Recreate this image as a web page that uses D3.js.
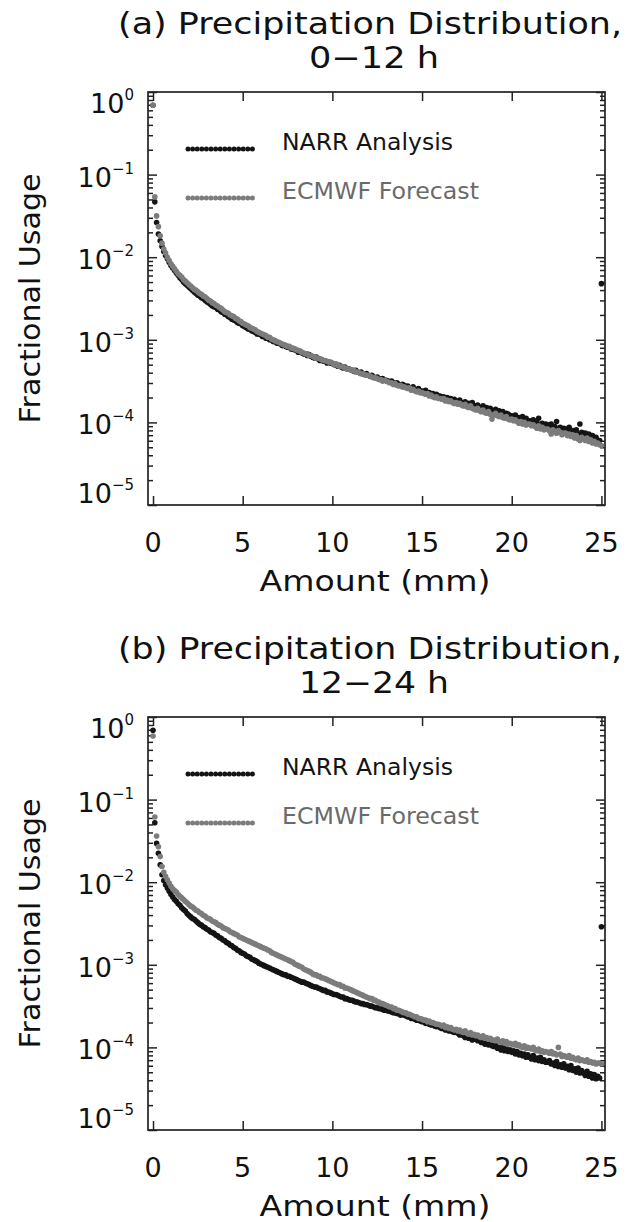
<!DOCTYPE html>
<html>
<head>
<meta charset="utf-8">
<script src="https://cdn.jsdelivr.net/npm/d3@7"></script>
<style>
  body { margin: 0; background: #fff; }
  svg { display: block; font-family: "DejaVu Sans", sans-serif; }
</style>
</head>
<body>
<svg id="chart" width="635" height="1222"></svg>
<script>
// precipitation bins: 0.0, 0.1, ... 24.9 mm, last bin (>= 25 mm) sits at 25
var amounts = d3.range(251).map(function(i) { return i / 10; });

var xTicks = [0, 5, 10, 15, 20, 25];
var yExponents = [0, -1, -2, -3, -4, -5];

// log10 of fractional usage, one row per mm
var narrA = [
  -0.16,-1.33,-1.58,-1.72,-1.80,-1.87,-1.93,-1.98,-2.02,-2.06,
  -2.10,-2.13,-2.16,-2.19,-2.22,-2.25,-2.27,-2.30,-2.32,-2.34,
  -2.36,-2.38,-2.40,-2.42,-2.44,-2.46,-2.47,-2.49,-2.50,-2.52,
  -2.54,-2.55,-2.57,-2.59,-2.60,-2.61,-2.63,-2.64,-2.66,-2.67,
  -2.69,-2.70,-2.72,-2.73,-2.75,-2.76,-2.77,-2.79,-2.80,-2.81,
  -2.83,-2.84,-2.85,-2.87,-2.87,-2.89,-2.90,-2.91,-2.93,-2.93,
  -2.94,-2.96,-2.96,-2.98,-2.98,-3.00,-3.00,-3.02,-3.02,-3.04,
  -3.04,-3.05,-3.07,-3.06,-3.08,-3.09,-3.09,-3.11,-3.11,-3.12,
  -3.13,-3.15,-3.14,-3.16,-3.17,-3.17,-3.19,-3.18,-3.20,-3.21,
  -3.22,-3.21,-3.23,-3.25,-3.24,-3.26,-3.26,-3.28,-3.27,-3.28,
  -3.29,-3.30,-3.30,-3.32,-3.31,-3.33,-3.34,-3.33,-3.35,-3.35,
  -3.36,-3.37,-3.38,-3.37,-3.39,-3.40,-3.39,-3.41,-3.42,-3.41,
  -3.43,-3.44,-3.43,-3.45,-3.46,-3.45,-3.47,-3.48,-3.47,-3.49,
  -3.49,-3.50,-3.51,-3.50,-3.52,-3.53,-3.52,-3.54,-3.55,-3.54,
  -3.55,-3.57,-3.56,-3.58,-3.59,-3.57,-3.60,-3.61,-3.59,-3.62,
  -3.62,-3.63,-3.61,-3.65,-3.64,-3.66,-3.65,-3.67,-3.66,-3.68,
  -3.68,-3.70,-3.69,-3.71,-3.70,-3.72,-3.71,-3.74,-3.72,-3.74,
  -3.75,-3.73,-3.76,-3.77,-3.75,-3.78,-3.77,-3.80,-3.76,-3.80,
  -3.81,-3.79,-3.82,-3.83,-3.80,-3.84,-3.82,-3.85,-3.83,-3.86,
  -3.87,-3.84,-3.88,-3.86,-3.90,-3.87,-3.91,-3.89,-3.90,-3.93,
  -3.92,-3.95,-3.91,-3.96,-3.94,-3.97,-3.93,-3.98,-3.95,-3.99,
  -3.98,-4.01,-3.97,-4.02,-4.00,-3.95,-4.03,-4.01,-4.04,-4.02,
  -4.03,-4.06,-4.02,-4.07,-4.05,-3.99,-4.08,-4.06,-4.09,-4.07,
  -4.08,-4.11,-4.06,-4.12,-4.10,-4.13,-4.09,-4.14,-4.02,-4.12,
  -4.15,-4.13,-4.17,-4.14,-4.19,-4.16,-4.21,-4.18,-4.23,-4.22,
  -2.32
];

var ecmwfA = [
  -0.16,-1.27,-1.50,-1.63,-1.74,-1.83,-1.90,-1.95,-2.00,-2.04,
  -2.08,-2.11,-2.14,-2.17,-2.20,-2.22,-2.24,-2.27,-2.29,-2.31,
  -2.33,-2.35,-2.37,-2.39,-2.40,-2.42,-2.44,-2.45,-2.47,-2.48,
  -2.50,-2.52,-2.53,-2.55,-2.56,-2.58,-2.59,-2.61,-2.62,-2.64,
  -2.66,-2.67,-2.68,-2.70,-2.71,-2.72,-2.74,-2.75,-2.77,-2.78,
  -2.80,-2.81,-2.82,-2.83,-2.85,-2.86,-2.87,-2.88,-2.90,-2.91,
  -2.92,-2.93,-2.94,-2.95,-2.97,-2.97,-2.99,-3.00,-3.01,-3.02,
  -3.03,-3.04,-3.05,-3.06,-3.07,-3.08,-3.08,-3.10,-3.10,-3.11,
  -3.12,-3.13,-3.14,-3.15,-3.16,-3.17,-3.17,-3.19,-3.19,-3.20,
  -3.21,-3.22,-3.22,-3.23,-3.24,-3.25,-3.25,-3.26,-3.27,-3.27,
  -3.28,-3.30,-3.29,-3.31,-3.32,-3.32,-3.33,-3.34,-3.35,-3.35,
  -3.36,-3.37,-3.37,-3.39,-3.39,-3.40,-3.41,-3.41,-3.42,-3.43,
  -3.43,-3.44,-3.45,-3.46,-3.46,-3.47,-3.48,-3.48,-3.50,-3.49,
  -3.50,-3.51,-3.52,-3.52,-3.54,-3.53,-3.55,-3.56,-3.55,-3.57,
  -3.57,-3.58,-3.59,-3.58,-3.61,-3.60,-3.62,-3.63,-3.62,-3.64,
  -3.64,-3.65,-3.66,-3.65,-3.68,-3.67,-3.69,-3.70,-3.69,-3.71,
  -3.71,-3.72,-3.71,-3.74,-3.73,-3.75,-3.74,-3.76,-3.77,-3.76,
  -3.78,-3.77,-3.79,-3.80,-3.78,-3.81,-3.82,-3.80,-3.83,-3.84,
  -3.85,-3.83,-3.86,-3.87,-3.85,-3.88,-3.89,-3.87,-3.90,-3.96,
  -3.91,-3.89,-3.92,-3.93,-3.91,-3.94,-3.95,-3.93,-3.96,-3.97,
  -3.96,-3.98,-3.97,-3.99,-4.01,-3.99,-4.02,-4.00,-4.03,-4.02,
  -4.02,-4.04,-4.03,-4.05,-4.07,-4.04,-4.08,-4.06,-4.09,-4.08,
  -4.08,-4.10,-4.14,-4.09,-4.11,-4.13,-4.10,-4.12,-4.15,-4.13,
  -4.13,-4.16,-4.14,-4.17,-4.15,-4.19,-4.16,-4.20,-4.22,-4.18,
  -4.20,-4.22,-4.19,-4.23,-4.21,-4.25,-4.23,-4.26,-4.25,-4.27,
  -4.28
];

var narrB = [
  -0.16,-1.28,-1.53,-1.65,-1.79,-1.91,-1.98,-2.03,-2.07,-2.11,
  -2.15,-2.18,-2.21,-2.23,-2.26,-2.28,-2.31,-2.33,-2.35,-2.38,
  -2.40,-2.42,-2.44,-2.45,-2.47,-2.49,-2.51,-2.52,-2.54,-2.55,
  -2.57,-2.58,-2.60,-2.61,-2.62,-2.64,-2.65,-2.67,-2.68,-2.70,
  -2.71,-2.73,-2.74,-2.76,-2.77,-2.79,-2.80,-2.82,-2.83,-2.85,
  -2.86,-2.87,-2.89,-2.90,-2.91,-2.93,-2.94,-2.95,-2.96,-2.98,
  -2.99,-3.00,-3.01,-3.02,-3.03,-3.04,-3.05,-3.06,-3.07,-3.08,
  -3.09,-3.10,-3.11,-3.12,-3.12,-3.14,-3.14,-3.15,-3.16,-3.17,
  -3.18,-3.19,-3.20,-3.21,-3.21,-3.22,-3.23,-3.24,-3.25,-3.26,
  -3.27,-3.27,-3.28,-3.29,-3.30,-3.31,-3.31,-3.33,-3.33,-3.34,
  -3.35,-3.36,-3.36,-3.37,-3.38,-3.39,-3.39,-3.41,-3.41,-3.42,
  -3.43,-3.43,-3.44,-3.45,-3.45,-3.46,-3.47,-3.47,-3.48,-3.48,
  -3.49,-3.50,-3.50,-3.51,-3.52,-3.52,-3.53,-3.53,-3.54,-3.55,
  -3.55,-3.56,-3.56,-3.57,-3.58,-3.58,-3.59,-3.59,-3.61,-3.60,
  -3.61,-3.62,-3.63,-3.63,-3.65,-3.64,-3.66,-3.67,-3.67,-3.68,
  -3.69,-3.69,-3.71,-3.70,-3.72,-3.73,-3.72,-3.74,-3.75,-3.74,
  -3.76,-3.77,-3.76,-3.79,-3.78,-3.80,-3.79,-3.81,-3.82,-3.81,
  -3.83,-3.85,-3.83,-3.86,-3.88,-3.85,-3.89,-3.88,-3.91,-3.89,
  -3.90,-3.92,-3.89,-3.94,-3.93,-3.96,-3.93,-3.97,-3.95,-3.98,
  -3.99,-3.97,-4.01,-4.00,-4.03,-3.99,-4.04,-4.02,-4.05,-4.03,
  -4.06,-4.04,-4.08,-4.05,-4.09,-4.07,-4.10,-4.08,-4.12,-4.09,
  -4.12,-4.14,-4.10,-4.15,-4.13,-4.16,-4.12,-4.17,-4.15,-4.18,
  -4.18,-4.16,-4.20,-4.19,-4.22,-4.17,-4.23,-4.21,-4.24,-4.20,
  -4.25,-4.23,-4.27,-4.22,-4.28,-4.26,-4.30,-4.25,-4.31,-4.28,
  -4.31,-4.34,-4.29,-4.35,-4.32,-4.37,-4.33,-4.38,-4.35,-4.37,
  -2.54
];

var ecmwfB = [
  -0.23,-1.21,-1.44,-1.57,-1.69,-1.81,-1.88,-1.93,-1.97,-2.01,
  -2.05,-2.08,-2.10,-2.12,-2.15,-2.17,-2.19,-2.21,-2.23,-2.25,
  -2.27,-2.29,-2.30,-2.32,-2.34,-2.35,-2.37,-2.38,-2.40,-2.41,
  -2.43,-2.44,-2.45,-2.47,-2.48,-2.49,-2.51,-2.52,-2.53,-2.55,
  -2.56,-2.57,-2.58,-2.60,-2.61,-2.62,-2.63,-2.64,-2.66,-2.67,
  -2.68,-2.69,-2.70,-2.71,-2.72,-2.73,-2.74,-2.75,-2.76,-2.77,
  -2.78,-2.79,-2.80,-2.81,-2.82,-2.83,-2.85,-2.86,-2.87,-2.88,
  -2.89,-2.90,-2.91,-2.92,-2.93,-2.94,-2.95,-2.96,-2.97,-2.99,
  -3.00,-3.01,-3.02,-3.03,-3.05,-3.06,-3.07,-3.08,-3.09,-3.11,
  -3.12,-3.12,-3.14,-3.14,-3.16,-3.16,-3.17,-3.18,-3.19,-3.20,
  -3.21,-3.22,-3.23,-3.24,-3.24,-3.26,-3.26,-3.28,-3.28,-3.29,
  -3.30,-3.31,-3.32,-3.33,-3.34,-3.35,-3.36,-3.37,-3.38,-3.39,
  -3.40,-3.41,-3.41,-3.43,-3.43,-3.45,-3.45,-3.47,-3.47,-3.48,
  -3.49,-3.50,-3.51,-3.51,-3.53,-3.53,-3.55,-3.55,-3.56,-3.57,
  -3.58,-3.58,-3.60,-3.60,-3.61,-3.62,-3.63,-3.63,-3.65,-3.65,
  -3.66,-3.67,-3.67,-3.69,-3.68,-3.70,-3.70,-3.71,-3.72,-3.72,
  -3.73,-3.74,-3.73,-3.76,-3.75,-3.77,-3.76,-3.78,-3.79,-3.78,
  -3.80,-3.79,-3.81,-3.82,-3.80,-3.83,-3.84,-3.82,-3.85,-3.84,
  -3.86,-3.85,-3.87,-3.88,-3.86,-3.89,-3.88,-3.90,-3.89,-3.91,
  -3.91,-3.92,-3.90,-3.93,-3.94,-3.92,-3.95,-3.93,-3.96,-3.95,
  -3.96,-3.97,-3.95,-3.98,-3.97,-3.99,-4.00,-3.98,-4.01,-4.00,
  -4.01,-4.02,-4.00,-4.03,-4.04,-4.02,-4.05,-4.04,-4.06,-4.05,
  -4.06,-4.07,-4.05,-4.08,-4.07,-4.09,-4.00,-4.08,-4.11,-4.10,
  -4.11,-4.12,-4.10,-4.13,-4.12,-4.14,-4.15,-4.13,-4.16,-4.15,
  -4.16,-4.17,-4.15,-4.18,-4.17,-4.19,-4.18,-4.20,-4.19,-4.19,
  -4.20
];

var seriesNames = ["NARR Analysis", "ECMWF Forecast"];
var seriesColors = ["#141414", "#7c7c7c"];
var legendTextColors = ["#141414", "#6a6a6a"];

var panels = [
  { title: "(a) Precipitation Distribution,", sub: "0\u221212 h", data: [narrA, ecmwfA], top: 92 },
  { title: "(b) Precipitation Distribution,", sub: "12\u221224 h", data: [narrB, ecmwfB], top: 717 }
];

var left = 148, right = 605, plotH = 413;
var svg = d3.select('#chart');

var x = d3.scaleLinear().domain([-0.28, 25.2]).range([left, right]);

var minorTicks = [];
yExponents.slice(1).forEach(function(e) {
  for (var k = 2; k <= 9; k++) minorTicks.push(k * Math.pow(10, e));
});
var majorTicks = yExponents.map(function(e) { return Math.pow(10, e); });

panels.forEach(function(p) {
  var top = p.top, bottom = top + plotH;
  var y = d3.scaleLog().domain([1e-5, 1]).range([bottom, top]);
  var g = svg.append('g');

  // titles
  g.append('text').attr('x', 370).attr('y', top - 58)
    .attr('text-anchor', 'middle').attr('font-size', 30)
    .attr('textLength', 504).attr('lengthAdjust', 'spacingAndGlyphs')
    .attr('fill', '#111').text(p.title);
  g.append('text').attr('x', 374).attr('y', top - 24)
    .attr('text-anchor', 'middle').attr('font-size', 30)
    .attr('textLength', p.sub.length > 6 ? 150 : 130).attr('lengthAdjust', 'spacingAndGlyphs')
    .attr('fill', '#111').text(p.sub);

  // ticks (inward) on all four sides
  var axes = [
    { ax: d3.axisBottom(x).tickValues(xTicks).tickSize(-9), t: 'translate(0,' + bottom + ')' },
    { ax: d3.axisTop(x).tickValues(xTicks).tickSize(-9), t: 'translate(0,' + top + ')' },
    { ax: d3.axisLeft(y).tickValues(majorTicks).tickSize(-9), t: 'translate(' + left + ',0)' },
    { ax: d3.axisLeft(y).tickValues(minorTicks).tickSize(-5), t: 'translate(' + left + ',0)' },
    { ax: d3.axisRight(y).tickValues(majorTicks).tickSize(-9), t: 'translate(' + right + ',0)' },
    { ax: d3.axisRight(y).tickValues(minorTicks).tickSize(-5), t: 'translate(' + right + ',0)' }
  ];
  axes.forEach(function(a) {
    var ag = g.append('g').attr('transform', a.t)
      .call(a.ax.tickSizeOuter(0).tickFormat(''));
    ag.select('.domain').remove();
    ag.selectAll('line').attr('stroke', '#222').attr('stroke-width', 1.5);
  });

  g.append('rect').attr('x', left).attr('y', top)
    .attr('width', right - left).attr('height', plotH)
    .attr('fill', 'none').attr('stroke', '#222').attr('stroke-width', 1.7);

  // x tick labels
  g.selectAll('.xl').data(xTicks).enter().append('text')
    .attr('x', function(d) { return x(d); }).attr('y', bottom + 47)
    .attr('text-anchor', 'middle').attr('font-size', 27).attr('fill', '#111')
    .text(function(d) { return d; });

  // y tick labels 10^n
  yExponents.forEach(function(e) {
    var yy = Math.max(Math.min(y(Math.pow(10, e)) + 12, bottom - 2), top + 21);
    var t = g.append('text').attr('x', 134).attr('y', yy)
      .attr('text-anchor', 'end').attr('fill', '#111');
    t.append('tspan').attr('font-size', 27).text('10');
    t.append('tspan').attr('font-size', 15).attr('dy', -13)
      .text(e === 0 ? '0' : '\u2212' + (-e));
  });

  // axis titles
  g.append('text').attr('x', 375).attr('y', bottom + 86)
    .attr('text-anchor', 'middle').attr('font-size', 28)
    .attr('textLength', 231).attr('lengthAdjust', 'spacingAndGlyphs')
    .attr('fill', '#111').text('Amount (mm)');
  g.append('text')
    .attr('transform', 'translate(40,' + (top + plotH / 2) + ') rotate(-90)')
    .attr('text-anchor', 'middle').attr('font-size', 28)
    .attr('textLength', 250).attr('lengthAdjust', 'spacingAndGlyphs')
    .attr('fill', '#111').text('Fractional Usage');

  // data points
  p.data.forEach(function(vals, si) {
    g.append('g').selectAll('circle')
      .data(vals).enter().append('circle')
      .attr('cx', function(d, i) { return x(amounts[i]); })
      .attr('cy', function(d) { return y(Math.pow(10, d)); })
      .attr('r', 2.8)
      .attr('fill', seriesColors[si]);
  });

  // legend
  seriesNames.forEach(function(name, si) {
    var ly = top + 57 + si * 49;
    var lg = g.append('g');
    lg.selectAll('circle').data(d3.range(15)).enter().append('circle')
      .attr('cx', function(d) { return 188 + d * 4.6; })
      .attr('cy', ly).attr('r', 2.5).attr('fill', seriesColors[si]);
    lg.append('text').attr('x', 282).attr('y', ly + 1)
      .attr('font-size', 23.5).attr('fill', legendTextColors[si])
      .attr('textLength', si === 0 ? 171 : 197).attr('lengthAdjust', 'spacingAndGlyphs')
      .text(name);
  });
});
</script>
</body>
</html>
